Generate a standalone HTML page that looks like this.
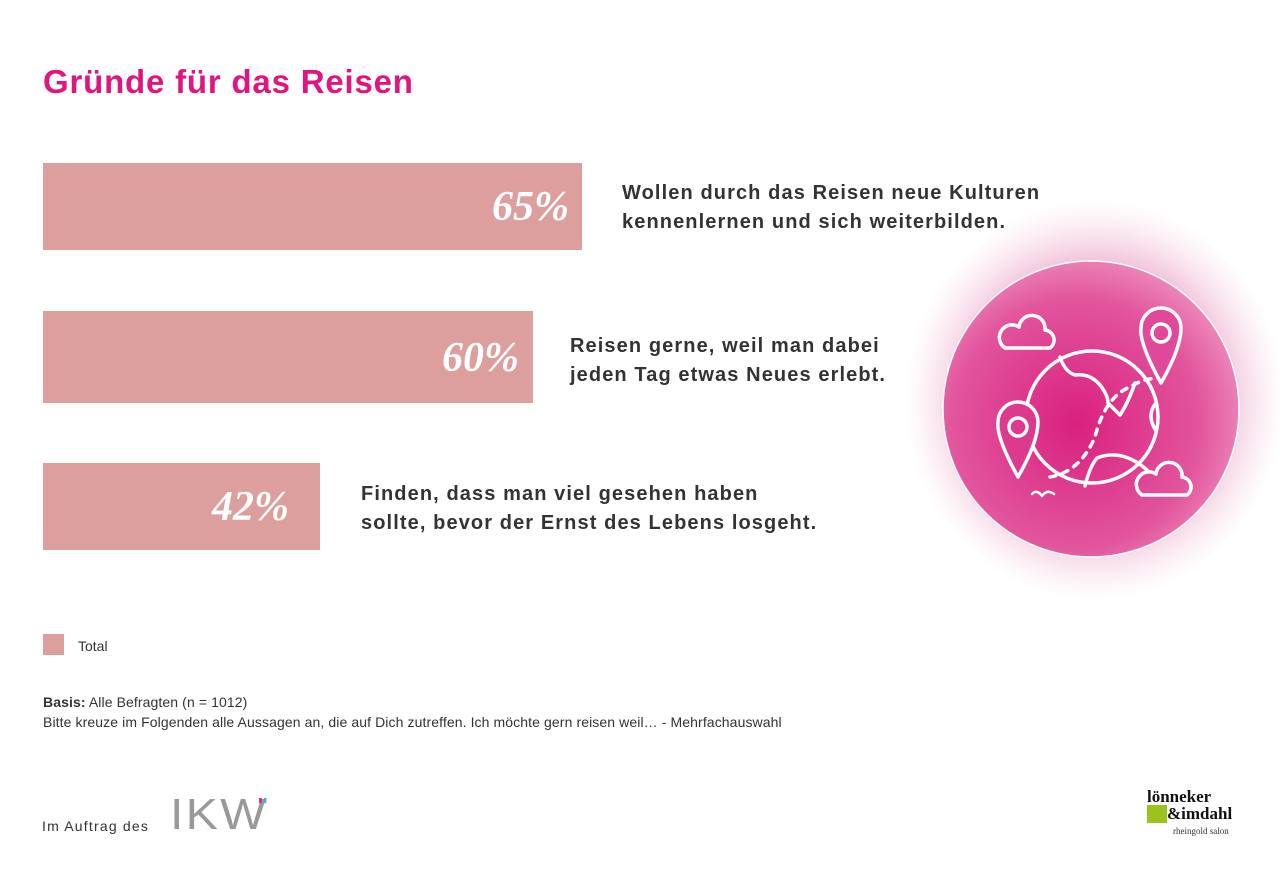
<!DOCTYPE html>
<html><head><meta charset="utf-8"><style>
body{margin:0;width:1280px;height:869px;background:#fff;position:relative;overflow:hidden;font-family:"Liberation Sans","DejaVu Sans",sans-serif}
.a{position:absolute}
.bar{position:absolute;background:#dc9f9d;left:43px}
.pct{position:absolute;color:#fff;font-family:"Liberation Serif",serif;font-style:italic;font-size:42px;font-weight:bold}
.lab{position:absolute;color:#333;font-size:20px;font-weight:bold;line-height:29px;letter-spacing:1.1px}
</style></head><body>
<div class="a" style="left:43px;top:63px;font-size:33px;font-weight:bold;color:#e0157f;letter-spacing:0.8px">Gründe für das Reisen</div>

<div class="bar" style="top:163px;width:539px;height:87px"></div>
<div class="pct" style="left:492px;top:183px">65%</div>
<div class="lab" style="left:622px;top:179px">Wollen durch das Reisen neue Kulturen<br>kennenlernen und sich weiterbilden.</div>

<div class="bar" style="top:311px;width:490px;height:92px"></div>
<div class="pct" style="left:442px;top:334px">60%</div>
<div class="lab" style="left:570px;top:332px">Reisen gerne, weil man dabei<br>jeden Tag etwas Neues erlebt.</div>

<div class="bar" style="top:463px;width:277px;height:87px"></div>
<div class="pct" style="left:212px;top:483px">42%</div>
<div class="lab" style="left:361px;top:480px">Finden, dass man viel gesehen haben<br>sollte, bevor der Ernst des Lebens losgeht.</div>

<svg class="a" style="left:880px;top:170px" width="400" height="440">
<defs><radialGradient id="s" cx="50%" cy="50%" r="50%"><stop offset="0.6" stop-color="#e890bb" stop-opacity="0.8"/><stop offset="1" stop-color="#f4c8dc" stop-opacity="0"/></radialGradient>
<radialGradient id="c" cx="45%" cy="55%" r="60%"><stop offset="0" stop-color="#d9207f"/><stop offset="0.7" stop-color="#e2559d"/><stop offset="1" stop-color="#ee8fbf"/></radialGradient></defs>
<ellipse cx="215" cy="230" rx="190" ry="200" fill="url(#s)"/>
<circle cx="211" cy="239" r="148" fill="url(#c)" stroke="#fff" stroke-width="1.5"/>
<g fill="none" stroke="#fff" stroke-width="3.5" stroke-linecap="round" stroke-linejoin="round">
<circle cx="212" cy="247" r="66"/>
<path d="M180 187 q5 15 15 18 q15 -2 25 10 q8 10 8 18 l12 12 q8 -12 15 -32"/>
<path d="M205 316 q5-20 12-28 q25-10 50 12"/>
<path d="M276 233 q-10 12 0 28"/>
<path d="M170 307 q30-5 45-40 q10-40 35-50 q15-10 40-10" stroke-dasharray="6 7"/>
<path d="M138 307 q-22-40-20-55 a20 20 0 0 1 40 0 q0 20-20 55z" fill="#dc3a8e"/>
<circle cx="138" cy="257" r="9"/>
<path d="M281 213 q-22-40-20-55 a20 20 0 0 1 40 0 q0 20-20 55z" fill="#e0489a"/>
<circle cx="281" cy="163" r="9"/>
<path d="M125 178 h45 a10 10 0 0 0-5-18 a13 13 0 0 0-26-3 a10 10 0 0 0-14 21z"/>
<path d="M262 325 h45 a10 10 0 0 0-5-18 a13 13 0 0 0-26-3 a10 10 0 0 0-14 21z"/>
<path d="M152 324 q5-5 10 2 q5-7 12-2" stroke-width="2.5"/>
</g></svg>

<div class="a" style="left:43px;top:634px;width:21px;height:21px;background:#dc9f9d"></div>
<div class="a" style="left:78px;top:638px;font-size:14px;color:#333">Total</div>

<div class="a" style="left:43px;top:692px;font-size:14px;color:#333;line-height:20px;letter-spacing:0.1px"><b>Basis:</b> Alle Befragten (n = 1012)<br>Bitte kreuze im Folgenden alle Aussagen an, die auf Dich zutreffen. Ich möchte gern reisen weil… - Mehrfachauswahl</div>

<div class="a" style="left:42px;top:818px;font-size:14px;color:#333;letter-spacing:1.2px">Im Auftrag des</div>
<div class="a" style="left:170px;top:790px;font-size:44px;color:#999;font-weight:300;letter-spacing:2px;transform:scaleX(1.1);transform-origin:left">IKW</div>
<div class="a" style="left:258px;top:795px;font-size:20px;color:#e0157f;font-weight:bold">'<span style="color:#4aa8d8">'</span></div>

<div class="a" style="left:1147px;top:788px;font-size:17px;font-weight:bold;color:#111;line-height:17px;font-family:'Liberation Serif',serif">lönneker<br><span style="display:inline-block;width:20px;height:18px;background:#9bc31c;vertical-align:top"></span>&amp;imdahl</div>
<div class="a" style="left:1173px;top:826px;font-size:9px;color:#333;font-family:'Liberation Serif',serif">rheingold salon</div>
</body></html>
